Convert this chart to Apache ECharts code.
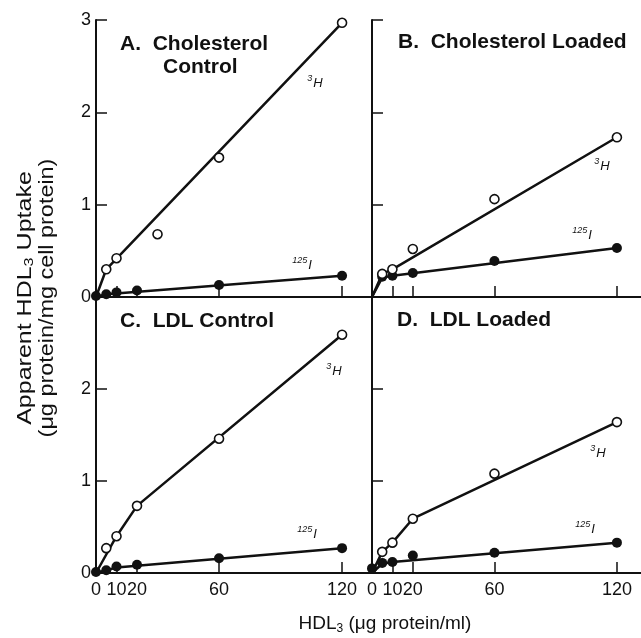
<!DOCTYPE html>
<html>
<head>
<meta charset="utf-8">
<script src="https://cdn.jsdelivr.net/npm/echarts@6/dist/echarts.min.js"></script>
<style>
  html, body { margin: 0; padding: 0; background: #fff; }
  #chart { width: 641px; height: 638px; }
</style>
</head>
<body>
<div id="chart"></div>
<script>
// tick positions on the HDL3 axis
const xTicks = [0, 10, 20, 60, 120]
const yTicks = [0, 1, 2, 3]

// A. Cholesterol Control
const aH_x = [5, 10, 30, 60, 120]
const aH_y = [0.30, 0.42, 0.68, 1.51, 2.97]
const aI_x = [0, 5, 10, 20, 60, 120]
const aI_y = [0.01, 0.03, 0.05, 0.07, 0.13, 0.23]
const aHfit_x = [0, 5, 120]
const aHfit_y = [0, 0.30, 2.97]
const aIfit_x = [0, 5, 120]
const aIfit_y = [0, 0.03, 0.23]

// B. Cholesterol Loaded
const bH_x = [5, 10, 20, 60, 120]
const bH_y = [0.25, 0.30, 0.52, 1.06, 1.73]
const bI_x = [5, 10, 20, 60, 120]
const bI_y = [0.22, 0.23, 0.26, 0.39, 0.53]
const bHfit_x = [0, 5, 10, 120]
const bHfit_y = [0, 0.25, 0.30, 1.73]
const bIfit_x = [0, 5, 10, 120]
const bIfit_y = [0, 0.21, 0.23, 0.53]

// C. LDL Control
const cH_x = [5, 10, 20, 60, 120]
const cH_y = [0.27, 0.40, 0.73, 1.46, 2.59]
const cI_x = [0, 5, 10, 20, 60, 120]
const cI_y = [0.01, 0.03, 0.07, 0.09, 0.16, 0.27]
const cHfit_x = [0, 10, 20, 120]
const cHfit_y = [0, 0.40, 0.73, 2.59]
const cIfit_x = [0, 10, 120]
const cIfit_y = [0, 0.06, 0.27]

// D. LDL Loaded
const dH_x = [5, 10, 20, 60, 120]
const dH_y = [0.23, 0.33, 0.59, 1.08, 1.64]
const dI_x = [0, 5, 10, 20, 60, 120]
const dI_y = [0.05, 0.11, 0.12, 0.19, 0.22, 0.33]
const dHfit_x = [0, 5, 10, 20, 120]
const dHfit_y = [0, 0.23, 0.33, 0.59, 1.64]
const dIfit_x = [0, 5, 10, 120]
const dIfit_y = [0, 0.10, 0.12, 0.33]

const panelTitles = ['A.  Cholesterol', 'B.  Cholesterol Loaded', 'C.  LDL Control', 'D.  LDL Loaded']

const FONT = '"Liberation Sans", Arial, Helvetica, sans-serif'
const INK = '#111'

const pairs = (xs, ys) => xs.map((x, i) => [x, ys[i]])

const panels = [
  { H: pairs(aH_x, aH_y), I: pairs(aI_x, aI_y), Hfit: pairs(aHfit_x, aHfit_y), Ifit: pairs(aIfit_x, aIfit_y) },
  { H: pairs(bH_x, bH_y), I: pairs(bI_x, bI_y), Hfit: pairs(bHfit_x, bHfit_y), Ifit: pairs(bIfit_x, bIfit_y) },
  { H: pairs(cH_x, cH_y), I: pairs(cI_x, cI_y), Hfit: pairs(cHfit_x, cHfit_y), Ifit: pairs(cIfit_x, cIfit_y) },
  { H: pairs(dH_x, dH_y), I: pairs(dI_x, dI_y), Hfit: pairs(dHfit_x, dHfit_y), Ifit: pairs(dIfit_x, dIfit_y) }
]

const grids = [
  { left: 96, top: 20, width: 276, height: 277 },
  { left: 372, top: 20, right: 0, height: 277 },
  { left: 96, top: 297, width: 276, height: 276 },
  { left: 372, top: 297, right: 0, height: 276 }
]
const xMax = [134.6, 131.8, 134.6, 131.8]

const axisLine = { show: true, lineStyle: { color: INK, width: 2 } }

const xAxes = grids.map((g, i) => ({
  type: 'value',
  gridIndex: i,
  min: 0,
  max: xMax[i],
  axisLine: { ...axisLine, onZero: false },
  axisTick: { show: true, inside: true, length: 11, lineStyle: { color: INK, width: 1.5 }, customValues: xTicks },
  axisLabel: {
    show: i >= 2,
    customValues: xTicks,
    margin: 8,
    fontSize: 18,
    fontFamily: FONT,
    color: INK
  },
  splitLine: { show: false }
}))
// top border of the upper panels
for (let i = 0; i < 2; i++) {
  xAxes.push({
    type: 'value',
    gridIndex: i,
    position: 'top',
    min: 0,
    max: xMax[i],
    axisLine: axisLine,
    axisTick: { show: false },
    axisLabel: { show: false },
    splitLine: { show: false }
  })
}

const yAxes = grids.map((g, i) => ({
  type: 'value',
  gridIndex: i,
  min: 0,
  max: 3,
  interval: 1,
  axisLine: { ...axisLine, onZero: false },
  axisTick: { show: true, inside: true, length: 11, lineStyle: { color: INK, width: 1.5 } },
  axisLabel: {
    show: i % 2 === 0,
    // lower panel: top label is covered by the "0" of the upper panel
    customValues: i === 0 ? yTicks : yTicks.slice(0, 3),
    margin: 5,
    fontSize: 18,
    fontFamily: FONT,
    color: INK
  },
  splitLine: { show: false }
}))

const series = []
panels.forEach((p, i) => {
  const base = { xAxisIndex: i, yAxisIndex: i, silent: true }
  series.push({ ...base, type: 'line', data: p.Hfit, showSymbol: false, lineStyle: { color: INK, width: 2.5 }, z: 2 })
  series.push({ ...base, type: 'line', data: p.Ifit, showSymbol: false, lineStyle: { color: INK, width: 2.5 }, z: 2 })
  series.push({ ...base, type: 'scatter', data: p.I, symbolSize: 10, itemStyle: { color: INK, opacity: 1 }, z: 3 })
  series.push({ ...base, type: 'scatter', data: p.H, symbolSize: 9, itemStyle: { color: '#fff', borderColor: INK, borderWidth: 1.6, opacity: 1 }, z: 4 })
})

const isoRich = {
  sup: { fontSize: 9, fontFamily: FONT, fontStyle: 'italic', fill: INK, padding: [0, 1, 9, 0] },
  it: { fontSize: 13, fontFamily: FONT, fontStyle: 'italic', fill: INK }
}
const isoLabel = (text, x, y) => ({
  type: 'text', x, y, z: 10,
  style: { text, rich: isoRich, align: 'center', verticalAlign: 'middle' }
})

const titleStyle = { fontSize: 21, fontWeight: 'bold', fontFamily: FONT, fill: INK }

const graphic = [
  { type: 'text', x: 120, y: 34, style: { ...titleStyle, text: panelTitles[0] } },
  { type: 'text', x: 163, y: 57, style: { ...titleStyle, text: 'Control' } },
  { type: 'text', x: 398, y: 32, style: { ...titleStyle, text: panelTitles[1] } },
  { type: 'text', x: 120, y: 311, style: { ...titleStyle, text: panelTitles[2] } },
  { type: 'text', x: 397, y: 310, style: { ...titleStyle, text: panelTitles[3] } },

  isoLabel('{sup|3}{it|H}', 315, 83),
  isoLabel('{sup|125}{it|I}', 302, 265),
  isoLabel('{sup|3}{it|H}', 602, 166),
  isoLabel('{sup|125}{it|I}', 582, 235),
  isoLabel('{sup|3}{it|H}', 334, 371),
  isoLabel('{sup|125}{it|I}', 307, 534),
  isoLabel('{sup|3}{it|H}', 598, 453),
  isoLabel('{sup|125}{it|I}', 585, 529),

  // y axis title (type in the figure is set wide, so stretch along the line)
  {
    type: 'text', x: 25, y: 298, rotation: Math.PI / 2, scaleX: 1.25,
    style: {
      text: 'Apparent HDL{sub|3} Uptake',
      fontSize: 20, fontFamily: FONT, fill: INK, align: 'center', verticalAlign: 'middle',
      rich: { sub: { fontSize: 13, fontFamily: FONT, fill: INK, padding: [9, 0, 0, 0] } }
    }
  },
  {
    type: 'text', x: 47, y: 298, rotation: Math.PI / 2, scaleX: 1.17,
    style: {
      text: '(μg protein/mg cell protein)',
      fontSize: 20, fontFamily: FONT, fill: INK, align: 'center', verticalAlign: 'middle'
    }
  },
  // x axis title
  {
    type: 'text', x: 385, y: 624,
    style: {
      text: 'HDL{sub|3} (μg protein/ml)',
      fontSize: 19, fontFamily: FONT, fill: INK, align: 'center', verticalAlign: 'middle',
      rich: { sub: { fontSize: 12, fontFamily: FONT, fill: INK, padding: [9, 0, 0, 0] } }
    }
  }
]

const chart = echarts.init(document.getElementById('chart'))
chart.setOption({
  animation: false,
  backgroundColor: '#fff',
  grid: grids,
  xAxis: xAxes,
  yAxis: yAxes,
  series,
  graphic
})
</script>
</body>
</html>
